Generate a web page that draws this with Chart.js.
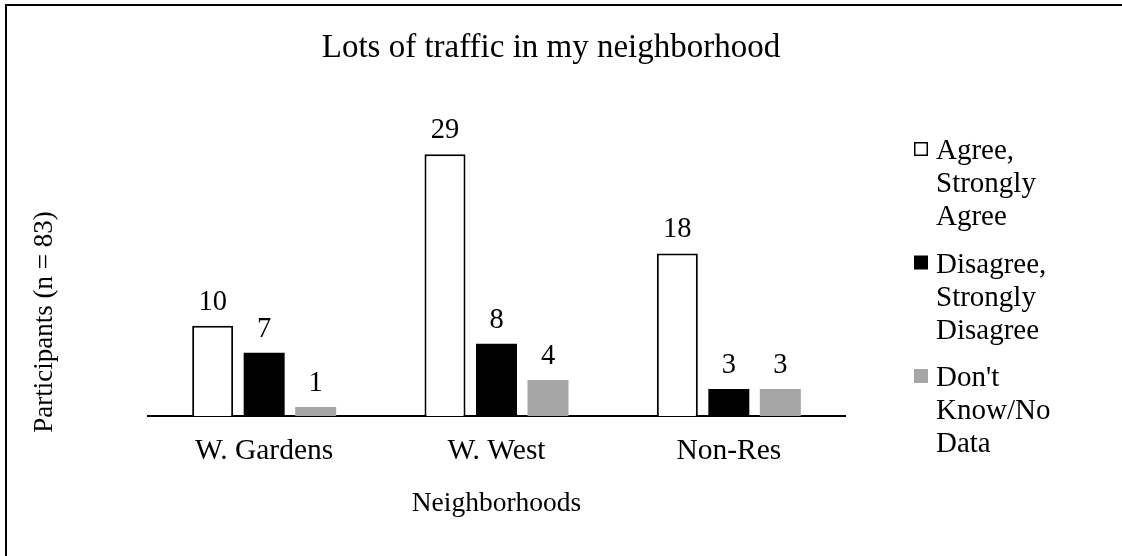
<!DOCTYPE html>
<html>
<head>
<meta charset="utf-8">
<script src="https://cdn.jsdelivr.net/npm/chart.js@4.4.0/dist/chart.umd.min.js"></script>
<style>
  html, body { margin: 0; padding: 0; background: #fff; }
  #wrap { position: relative; width: 1122px; height: 556px; overflow: hidden; }
  #frame { position: absolute; left: 5px; top: 4px; width: 1200px; height: 700px;
           border-top: 2px solid #000; border-left: 2px solid #000; pointer-events: none; }
  canvas { position: absolute; left: 0; top: 0; }
</style>
</head>
<body>
<div id="wrap">
  <canvas id="c" width="1122" height="556"></canvas>
  <div id="frame"></div>
</div>
<script>
// ---- data ----
const chartTitle = "Lots of traffic in my neighborhood";
const xTitle = "Neighborhoods";
const yTitle = "Participants (n = 83)";
const categories = ["W. Gardens", "W. West", "Non-Res"];
const seriesNames = ["Agree, Strongly Agree", "Disagree, Strongly Disagree", "Don't Know/No Data"];
const legendLines = [["Agree,", "Strongly", "Agree"], ["Disagree,", "Strongly", "Disagree"], ["Don't", "Know/No", "Data"]];
const agreeValues = [10, 29, 18];
const disagreeValues = [7, 8, 3];
const dontKnowValues = [1, 4, 3];

const FONT = "'Liberation Serif', 'Times New Roman', serif";
Chart.defaults.font.family = FONT;
Chart.defaults.font.size = 27;
Chart.defaults.color = '#000';

const valueLabels = {
  id: 'valueLabels',
  afterDatasetsDraw(chart) {
    const ctx = chart.ctx;
    ctx.save();
    ctx.font = '28.5px ' + FONT;
    ctx.fillStyle = '#000';
    ctx.textAlign = 'center';
    ctx.textBaseline = 'alphabetic';
    chart.data.datasets.forEach((ds, di) => {
      const meta = chart.getDatasetMeta(di);
      meta.data.forEach((el, i) => {
        ctx.fillText(String(ds.data[i]), el.x, el.y - 16);
      });
    });
    ctx.restore();
  }
};

const sideTexts = {
  id: 'sideTexts',
  afterDraw(chart) {
    const ctx = chart.ctx;
    const area = chart.chartArea;
    ctx.save();
    // y axis title
    ctx.font = '27px ' + FONT;
    ctx.fillStyle = '#000';
    ctx.translate(45, 322);
    ctx.rotate(-Math.PI / 2);
    ctx.textAlign = 'center';
    ctx.textBaseline = 'middle';
    ctx.fillText(yTitle, 0, 0);
    ctx.restore();

    // legend
    ctx.save();
    ctx.font = '29px ' + FONT;
    ctx.textAlign = 'left';
    ctx.textBaseline = 'alphabetic';
    const boxX = area.right + 69;
    const textX = area.right + 91;
    chart.data.datasets.forEach((ds, i) => {
      const base = 159 + i * 113.5;
      const boxTop = base - 17;
      ctx.fillStyle = ds.backgroundColor;
      ctx.fillRect(boxX, boxTop, 14, 14);
      if (ds.borderWidth) {
        ctx.strokeStyle = ds.borderColor;
        ctx.lineWidth = 1.5;
        ctx.strokeRect(boxX + 0.75, boxTop + 0.75, 12.5, 12.5);
      }
      ctx.fillStyle = '#000';
      legendLines[i].forEach((line, j) => {
        ctx.fillText(line, textX, base + j * 33);
      });
    });
    ctx.restore();
  }
};

new Chart(document.getElementById('c'), {
  type: 'bar',
  data: {
    labels: categories,
    datasets: [
      { label: seriesNames[0], data: agreeValues, backgroundColor: '#ffffff', borderColor: '#000000', borderWidth: 2, borderSkipped: 'start' },
      { label: seriesNames[1], data: disagreeValues, backgroundColor: '#000000', borderWidth: 0 },
      { label: seriesNames[2], data: dontKnowValues, backgroundColor: '#a6a6a6', borderWidth: 0 }
    ]
  },
  options: {
    responsive: false,
    devicePixelRatio: 1,
    animation: false,
    layout: { padding: { left: 0, right: 20, top: 0, bottom: 0 } },
    datasets: { bar: { categoryPercentage: 0.665, barPercentage: 0.796 } },
    plugins: {
      legend: { display: false },
      tooltip: { enabled: false },
      title: {
        display: true,
        text: chartTitle,
        color: '#000',
        font: { family: FONT, size: 33, weight: 'normal' },
        padding: { top: 29, bottom: 31.4 }
      }
    },
    scales: {
      x: {
        grid: { display: false, drawTicks: false },
        border: { display: true, color: '#000', width: 2 },
        ticks: { padding: 18, color: '#000', font: { size: 29.5 } },
        title: { display: true, text: xTitle, color: '#000', font: { size: 27.5 }, padding: { top: 0, bottom: 36 } },
        afterFit(scale) { scale.height = 140; }
      },
      y: {
        min: 0, max: 35,
        grid: { display: false, drawTicks: false },
        border: { display: false },
        ticks: { display: false },
        afterFit(scale) { scale.width = 148; }
      },
      y2: {
        position: 'right',
        grid: { display: false, drawTicks: false },
        border: { display: false },
        ticks: { display: false },
        afterFit(scale) { scale.width = 257; }
      }
    }
  },
  plugins: [valueLabels, sideTexts]
});
</script>
</body>
</html>
